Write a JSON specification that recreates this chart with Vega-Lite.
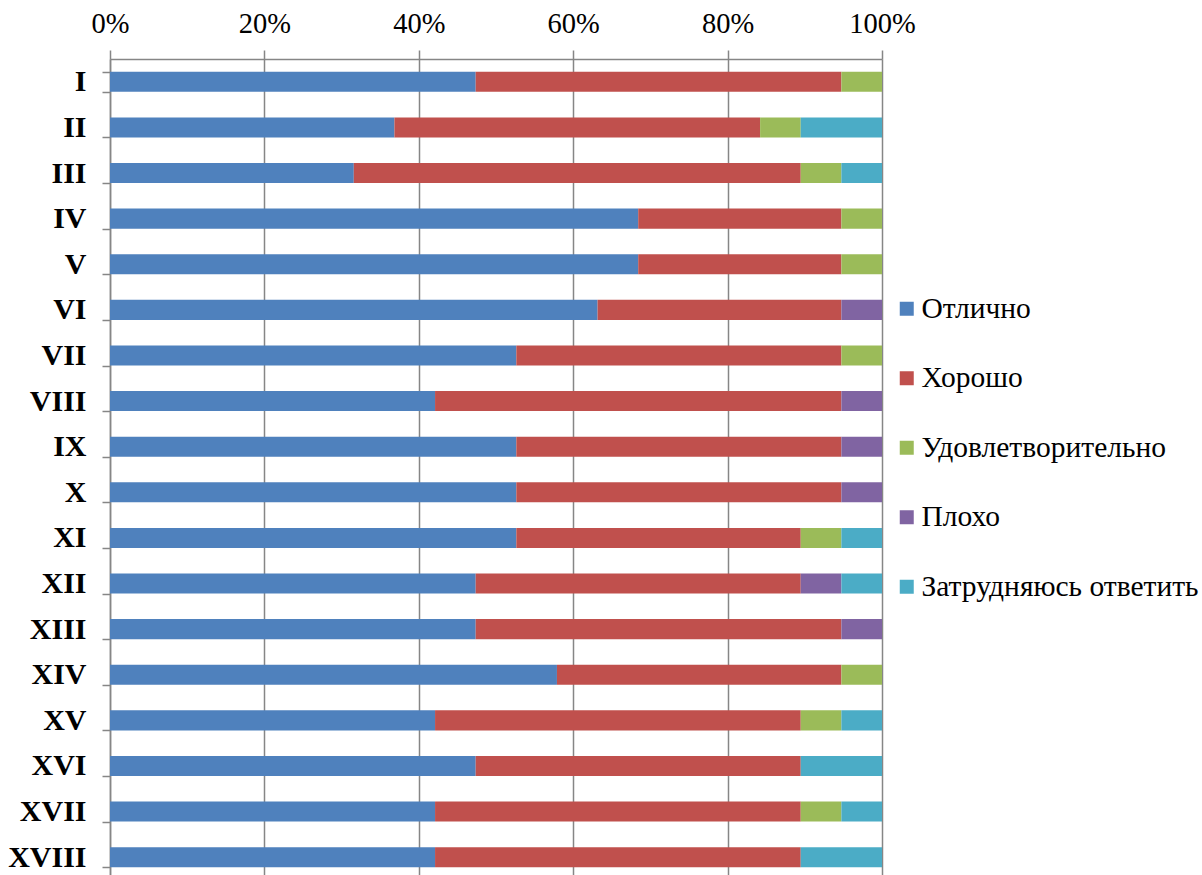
{
  "$schema": "https://vega.github.io/schema/vega-lite/v6.json",
  "width": 772,
  "height": 821,
  "autosize": {"type": "none"},
  "padding": {"left": 110, "top": 59, "right": 320, "bottom": 0},
  "background": "white",
  "config": {
    "view": {"stroke": null},
    "font": "Times New Roman, Liberation Serif, serif"
  },
  "datasets": {
    "cats": [
      {"cat": "Отлично", "rank": 1},
      {"cat": "Хорошо", "rank": 2},
      {"cat": "Удовлетворительно", "rank": 3},
      {"cat": "Плохо", "rank": 4},
      {"cat": "Затрудняюсь ответить", "rank": 5}
    ]
  },
  "data": {
    "values": [
      {"g": "I", "Отлично": 9, "Хорошо": 9, "Удовлетворительно": 1, "Плохо": 0, "Затрудняюсь ответить": 0},
      {"g": "II", "Отлично": 7, "Хорошо": 9, "Удовлетворительно": 1, "Плохо": 0, "Затрудняюсь ответить": 2},
      {"g": "III", "Отлично": 6, "Хорошо": 11, "Удовлетворительно": 1, "Плохо": 0, "Затрудняюсь ответить": 1},
      {"g": "IV", "Отлично": 13, "Хорошо": 5, "Удовлетворительно": 1, "Плохо": 0, "Затрудняюсь ответить": 0},
      {"g": "V", "Отлично": 13, "Хорошо": 5, "Удовлетворительно": 1, "Плохо": 0, "Затрудняюсь ответить": 0},
      {"g": "VI", "Отлично": 12, "Хорошо": 6, "Удовлетворительно": 0, "Плохо": 1, "Затрудняюсь ответить": 0},
      {"g": "VII", "Отлично": 10, "Хорошо": 8, "Удовлетворительно": 1, "Плохо": 0, "Затрудняюсь ответить": 0},
      {"g": "VIII", "Отлично": 8, "Хорошо": 10, "Удовлетворительно": 0, "Плохо": 1, "Затрудняюсь ответить": 0},
      {"g": "IX", "Отлично": 10, "Хорошо": 8, "Удовлетворительно": 0, "Плохо": 1, "Затрудняюсь ответить": 0},
      {"g": "X", "Отлично": 10, "Хорошо": 8, "Удовлетворительно": 0, "Плохо": 1, "Затрудняюсь ответить": 0},
      {"g": "XI", "Отлично": 10, "Хорошо": 7, "Удовлетворительно": 1, "Плохо": 0, "Затрудняюсь ответить": 1},
      {"g": "XII", "Отлично": 9, "Хорошо": 8, "Удовлетворительно": 0, "Плохо": 1, "Затрудняюсь ответить": 1},
      {"g": "XIII", "Отлично": 9, "Хорошо": 9, "Удовлетворительно": 0, "Плохо": 1, "Затрудняюсь ответить": 0},
      {"g": "XIV", "Отлично": 11, "Хорошо": 7, "Удовлетворительно": 1, "Плохо": 0, "Затрудняюсь ответить": 0},
      {"g": "XV", "Отлично": 8, "Хорошо": 9, "Удовлетворительно": 1, "Плохо": 0, "Затрудняюсь ответить": 1},
      {"g": "XVI", "Отлично": 9, "Хорошо": 8, "Удовлетворительно": 0, "Плохо": 0, "Затрудняюсь ответить": 2},
      {"g": "XVII", "Отлично": 8, "Хорошо": 9, "Удовлетворительно": 1, "Плохо": 0, "Затрудняюсь ответить": 1},
      {"g": "XVIII", "Отлично": 8, "Хорошо": 9, "Удовлетворительно": 0, "Плохо": 0, "Затрудняюсь ответить": 2}
    ]
  },
  "transform": [
    {"fold": ["Отлично", "Хорошо", "Удовлетворительно", "Плохо", "Затрудняюсь ответить"], "as": ["cat", "n"]},
    {"lookup": "cat", "from": {"data": {"name": "cats"}, "key": "cat", "fields": ["rank"]}}
  ],
  "mark": {"type": "bar"},
  "encoding": {
    "y": {
      "field": "g",
      "type": "nominal",
      "sort": null,
      "scale": {"paddingInner": 0.56, "paddingOuter": 0.28},
      "axis": {
        "title": null,
        "tickBand": "extent",
        "tickSize": 8,
        "tickColor": "#868686",
        "tickWidth": 1.5,
        "domainColor": "#868686",
        "domainWidth": 1.5,
        "labelFont": "Times New Roman, Liberation Serif, serif",
        "labelFontWeight": "bold",
        "labelFontSize": 30,
        "labelColor": "#000000",
        "labelPadding": 16
      }
    },
    "x": {
      "field": "n",
      "type": "quantitative",
      "stack": "normalize",
      "scale": {"domain": [0, 1], "nice": false},
      "axis": {
        "title": null,
        "orient": "top",
        "format": "%",
        "values": [0, 0.2, 0.4, 0.6, 0.8, 1],
        "grid": true,
        "gridColor": "#868686",
        "gridWidth": 1.5,
        "tickSize": 9,
        "tickColor": "#868686",
        "tickWidth": 1.5,
        "domainColor": "#868686",
        "domainWidth": 1.5,
        "labelFont": "Times New Roman, Liberation Serif, serif",
        "labelFontSize": 28.5,
        "labelColor": "#000000",
        "labelPadding": 12,
        "labelFlush": false
      }
    },
    "order": {"field": "rank", "type": "quantitative", "sort": "ascending"},
    "color": {
      "field": "cat",
      "type": "nominal",
      "scale": {
        "domain": ["Отлично", "Хорошо", "Удовлетворительно", "Плохо", "Затрудняюсь ответить"],
        "range": ["#4F81BD", "#C0504D", "#9BBB59", "#8064A2", "#4BACC6"]
      },
      "legend": {
        "title": null,
        "orient": "none",
        "legendX": 782,
        "legendY": 235,
        "symbolType": "square",
        "symbolSize": 196,
        "symbolStrokeWidth": 0,
        "labelFont": "Times New Roman, Liberation Serif, serif",
        "labelFontSize": 29.5,
        "labelColor": "#000000",
        "labelOffset": 0,
        "rowPadding": 38.5,
        "labelLimit": 400
      }
    }
  }
}
